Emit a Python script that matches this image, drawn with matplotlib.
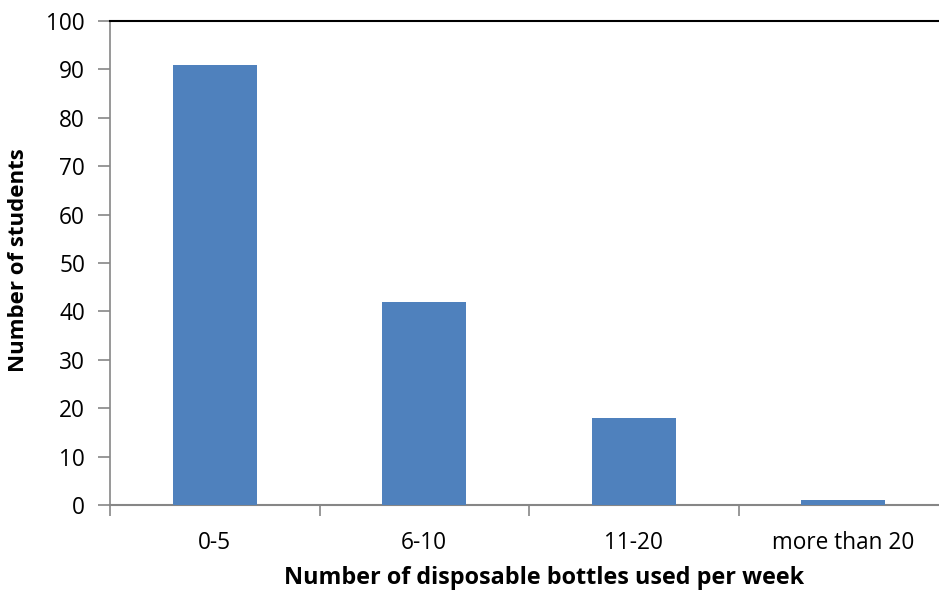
import matplotlib
matplotlib.use("Agg")
import matplotlib.pyplot as plt

categories = ["0-5", "6-10", "11-20", "more than 20"]
values = [91, 42, 18, 1]
yticks = [0, 10, 20, 30, 40, 50, 60, 70, 80, 90, 100]

plt.rcParams['font.family'] = ['Open Sans', 'DejaVu Sans']
FS = 16.3
LFS = 16.8

fig = plt.figure(figsize=(9.39, 5.95), dpi=100)
ax = fig.add_axes([110/939, 1-505/595, 838/939, (505-21)/595])

x = list(range(len(categories)))
ax.bar(x, values, width=0.40, color='#4F81BD', zorder=3)
ax.set_xlim(-0.5, len(categories)-0.5)
ax.set_ylim(0, 100)
ax.set_yticks(yticks)
ax.set_yticklabels([str(t) for t in yticks], fontsize=FS)
ax.set_xticks(x)
ax.set_xticklabels(categories, fontsize=FS)
ax.tick_params(axis='x', length=0, pad=19)
ax.tick_params(axis='y', length=9, color='#868686', width=1.2, pad=9)
ax.set_xticks([i + 0.5 for i in range(-1, len(categories))], minor=True)
ax.tick_params(axis='x', which='minor', length=8, color='#868686', width=1.2)

ax.spines['right'].set_visible(False)
ax.spines['top'].set_color('black')
ax.spines['top'].set_linewidth(1.5)
ax.spines['left'].set_color('#868686')
ax.spines['left'].set_linewidth(1.2)
ax.spines['bottom'].set_color('#868686')
ax.spines['bottom'].set_linewidth(1.5)

ax.set_ylabel('Number of students', fontsize=16.0, fontweight='bold')
ax.set_xlabel('Number of disposable bottles used per week', fontsize=LFS, fontweight='bold')
ax.xaxis.set_label_coords(0.518, -0.125)
ax.yaxis.set_label_coords(-0.0965, 0.505)

fig.savefig('out.png', dpi=100)
